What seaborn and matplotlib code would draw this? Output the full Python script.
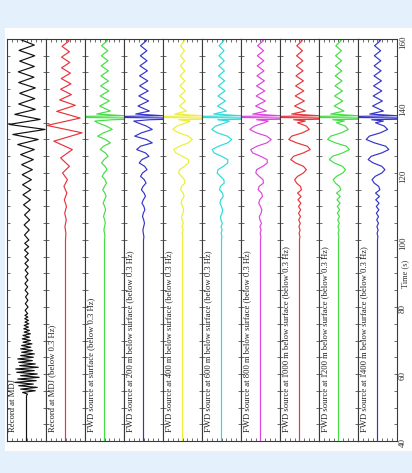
import matplotlib
matplotlib.use("Agg")
import matplotlib.pyplot as plt
from matplotlib.patches import Rectangle
from matplotlib.ticker import MultipleLocator
import seaborn as sns

# ---- data (time in s, amplitude as fraction of panel half-width) ----
labels = [
    "Record at MDJ",
    "Record at MDJ (below 0.3 Hz)",
    "FWD source at surface (below 0.3 Hz)",
    "FWD source at 200 m below surface (below 0.3 Hz)",
    "FWD source at 400 m below surface (below 0.3 Hz)",
    "FWD source at 600 m below surface (below 0.3 Hz)",
    "FWD source at 800 m below surface (below 0.3 Hz)",
    "FWD source at 1000 m below surface (below 0.3 Hz)",
    "FWD source at 1200 m below surface (below 0.3 Hz)",
    "FWD source at 1400 m below surface (below 0.3 Hz)",
]
colors = ["#111111", "#e8343c", "#44dd44", "#3434cc", "#eeee33",
          "#2edada", "#de44de", "#e8343c", "#44dd44", "#3434cc"]

time_ticks = [40, 60, 80, 100, 120, 140, 160]

# record at MDJ (broadband)
black_t = [40, 53.5,
           54, 54.5, 55, 55.5, 56, 56.5, 57, 57.5, 58, 58.5, 59, 59.5, 60, 60.5,
           61, 61.5, 62, 62.5, 63, 63.5, 64, 64.5, 65, 65.5, 66, 66.5, 67, 67.5,
           68, 68.5, 69, 69.5, 70, 70.5, 71, 71.5, 72, 72.5, 73, 73.5, 74, 74.5,
           75, 75.5, 76, 76.5, 77, 77.5, 78,
           79, 80, 81, 82, 83, 84, 85, 86, 87, 88, 89, 90, 91, 92, 93, 94, 95,
           96, 97, 98, 99, 100,
           101.5, 103, 104.5, 106, 107.5, 109, 110.5, 112, 113.5, 115, 116.5,
           118, 119.5, 121, 122.5, 124, 125.5, 127,
           128.5, 130, 131.5, 133, 134.5, 136, 137.5,
           139, 140.6, 142.2, 143.8, 145.4, 147, 148.6, 150.2, 151.8, 153.4,
           155, 156.6, 158.2, 159.8, 160]
black_a = [0, 0,
           0.05, -0.2, 0.45, -0.3, 0.55, -0.4, 0.35, -0.6, 0.5, -0.45, 0.65, -0.3, 0.55, -0.5,
           0.4, -0.55, 0.6, -0.35, 0.45, -0.4, 0.3, -0.45, 0.35, -0.3, 0.4, -0.25, 0.3, -0.3,
           0.22, -0.25, 0.28, -0.18, 0.2, -0.22, 0.15, -0.18, 0.2, -0.12, 0.15, -0.14, 0.1, -0.12,
           0.12, -0.08, 0.1, -0.09, 0.07, -0.08, 0.06,
           -0.07, 0.08, -0.06, 0.07, -0.05, 0.08, -0.07, 0.06, -0.08, 0.07, -0.06, 0.08, -0.07,
           0.09, -0.08, 0.1, -0.08, 0.09, -0.1, 0.11, -0.09, 0.12,
           -0.1, 0.14, -0.12, 0.16, -0.1, 0.18, -0.15, 0.2, -0.18, 0.22, -0.2,
           0.25, -0.22, 0.3, -0.25, 0.35, -0.3, 0.4,
           -0.45, 0.6, -0.7, 0.95, -0.9, 0.7, -0.6,
           0.45, -0.4, 0.42, -0.35, 0.45, -0.4, 0.38, -0.42, 0.4, -0.35,
           0.42, -0.38, 0.4, -0.3, -0.2]

# record at MDJ, low-passed
red_t = [40, 100, 102, 104, 106, 108, 110, 112, 114, 116, 118, 120, 122,
         124.5, 127, 129.5, 132, 134.2, 136.4, 138.4,
         140.2, 141.8, 143.4, 145, 146.6, 148.2, 149.8, 151.4, 153, 154.6,
         156.2, 157.8, 159.4, 160]
red_a = [0, 0, 0.02, -0.03, 0.04, -0.04, 0.05, -0.06, 0.07, -0.08, 0.1, -0.15, 0.2,
         -0.25, 0.35, -0.6, 0.85, -0.95, 0.75, -0.45,
         0.5, -0.3, 0.3, -0.25, 0.28, -0.22, 0.25, -0.2, 0.22, -0.2,
         0.2, -0.18, 0.18, 0]

# synthetic traces share one time grid
syn_t = [40, 100, 101, 102, 103, 104, 105, 106, 107, 108, 109, 110, 111,
         112, 113, 114, 115, 116, 117, 118, 119, 120, 121, 122, 123,
         124, 125, 126, 127, 128, 129, 130, 131, 132, 133, 134, 135,
         135.5, 135.9, 136.3, 136.7, 137.1, 137.6,
         138.5, 140, 141.5, 143, 144.5, 146, 147.5, 149, 150.5, 152, 153.5,
         155, 156.5, 158, 159.5, 160]

fwd_0 = [0, 0, 0.02, 0, -0.03, 0, 0.04, 0.01, -0.05, 0, 0.06, 0.01, -0.07,
         0, 0.08, 0.02, -0.09, 0, 0.1, 0.03, -0.12, -0.02, 0.13, 0.03, -0.15,
         -0.02, 0.18, 0.05, -0.22, -0.05, 0.3, 0.05, -0.35, -0.05, 0.4, 0.1, -0.35,
         -0.5, 0.4, 3.0, -3.0, 1.0, -0.4,
         0.3, -0.25, 0.25, -0.22, 0.22, -0.2, 0.2, -0.18, 0.2, -0.17, 0.18, -0.16, 0.17, -0.15, 0.15, 0]
fwd_200 = [0, 0, 0.02, -0.01, -0.03, 0.01, 0.05, 0.01, -0.05, -0.01, 0.07, 0.02, -0.08,
           -0.01, 0.1, 0.03, -0.11, -0.02, 0.13, 0.04, -0.15, -0.05, 0.18, 0.06, -0.22,
           -0.08, 0.28, 0.1, -0.35, -0.15, 0.45, 0.15, -0.45, -0.1, 0.45, 0.15, -0.3,
           -0.5, 0.3, 3.0, -3.0, 1.0, -0.4,
           0.3, -0.28, 0.26, -0.24, 0.24, -0.2, 0.22, -0.2, 0.2, -0.18, 0.18, -0.16, 0.17, -0.15, 0.15, 0]
fwd_400 = [0, 0, 0.02, -0.02, 0.03, -0.03, 0.04, -0.02, -0.05, 0.02, 0.06, 0.01, -0.07,
           -0.03, 0.08, 0.04, -0.1, -0.05, 0.12, 0.1, -0.05, -0.2, -0.15, 0.1, 0.3,
           0.3, 0, -0.35, -0.45, -0.15, 0.3, 0.5, 0.3, -0.2, -0.5, -0.3, 0.2,
           0.4, -0.2, 3.0, -3.0, 1.0, -0.4,
           0.2, -0.15, 0.15, -0.14, 0.14, -0.12, 0.12, -0.12, 0.12, -0.1, 0.11, -0.1, 0.1, -0.1, 0.1, 0]
fwd_600 = [0, 0, 0.02, -0.02, 0.03, -0.02, 0.04, -0.03, -0.05, 0.03, 0.06, 0, -0.08,
           -0.04, 0.09, 0.05, -0.1, -0.06, 0.14, 0.12, -0.06, -0.22, -0.18, 0.1, 0.32,
           0.32, 0, -0.38, -0.48, -0.15, 0.32, 0.52, 0.3, -0.22, -0.5, -0.3, 0.2,
           0.4, -0.2, 3.0, -3.0, 1.0, -0.4,
           0.25, -0.2, 0.2, -0.18, 0.18, -0.16, 0.16, -0.15, 0.15, -0.14, 0.14, -0.13, 0.13, -0.12, 0.12, 0]
fwd_800 = [0, 0, 0.02, -0.02, 0.03, -0.03, 0.05, -0.03, -0.06, 0.03, 0.07, 0, -0.09,
           -0.04, 0.1, 0.06, -0.12, -0.07, 0.15, 0.13, -0.07, -0.24, -0.2, 0.12, 0.35,
           0.34, 0, -0.4, -0.5, -0.18, 0.33, 0.55, 0.32, -0.22, -0.55, -0.32, 0.2,
           0.4, -0.2, 3.0, -3.0, 1.0, -0.4,
           0.3, -0.25, 0.25, -0.22, 0.22, -0.2, 0.2, -0.18, 0.18, -0.17, 0.17, -0.16, 0.16, -0.15, 0.15, 0]
fwd_1000 = [0, 0, 0.02, -0.02, 0.03, -0.03, 0.04, -0.04, 0.05, -0.05, 0.06, -0.05, 0.07,
            -0.08, 0.08, -0.1, 0.1, 0.05, -0.15, -0.25, -0.1, 0.2, 0.35, 0.2, -0.2,
            -0.45, -0.3, 0.2, 0.55, 0.4, -0.15, -0.55, -0.4, 0.15, 0.5, 0.35, -0.1,
            0.3, -0.3, 3.0, -3.0, 1.0, -0.4,
            0.3, -0.25, 0.25, -0.22, 0.22, -0.2, 0.2, -0.18, 0.18, -0.16, 0.17, -0.15, 0.15, -0.14, 0.14, 0]
fwd_1200 = [0, 0, 0.02, -0.02, 0.03, -0.03, 0.04, -0.04, 0.05, -0.06, 0.06, -0.06, 0.08,
            -0.08, 0.09, -0.1, 0.12, 0.05, -0.16, -0.27, -0.1, 0.22, 0.36, 0.2, -0.22,
            -0.47, -0.3, 0.22, 0.56, 0.4, -0.16, -0.56, -0.4, 0.15, 0.5, 0.35, -0.1,
            0.3, -0.3, 3.0, -3.0, 1.0, -0.4,
            0.28, -0.22, 0.22, -0.2, 0.2, -0.18, 0.18, -0.17, 0.17, -0.16, 0.16, -0.15, 0.15, -0.14, 0.14, 0]
fwd_1400 = [0, 0, 0.02, -0.02, 0.03, -0.03, 0.05, -0.04, 0.05, -0.06, 0.07, -0.06, 0.08,
            -0.09, 0.1, -0.1, 0.12, 0.06, -0.17, -0.28, -0.12, 0.22, 0.38, 0.22, -0.22,
            -0.48, -0.32, 0.22, 0.58, 0.42, -0.16, -0.58, -0.42, 0.15, 0.52, 0.35, -0.1,
            0.3, -0.3, 3.0, -3.0, 1.0, -0.4,
            0.3, -0.25, 0.25, -0.22, 0.22, -0.2, 0.2, -0.18, 0.18, -0.17, 0.17, -0.16, 0.16, -0.15, 0.15, 0]

times = [black_t, red_t] + [syn_t] * 8
amps = [black_a, red_a, fwd_0, fwd_200, fwd_400, fwd_600, fwd_800,
        fwd_1000, fwd_1200, fwd_1400]

# ---- figure ----
sns.set_style("white")
plt.rcParams["font.family"] = ["Liberation Serif", "DejaVu Serif"]

W, H = 412, 473
fig, axes = plt.subplots(1, 10, figsize=(W / 100, H / 100), dpi=100, sharey=True)
fig.patch.set_facecolor("#e4f0fb")
fig.patches.append(Rectangle((5 / W, 1 - 451 / H), 407 / W, 423 / H,
                             transform=fig.transFigure, facecolor="white",
                             edgecolor="none", zorder=-1))
fig.subplots_adjust(left=7 / W, right=397 / W, top=1 - 39 / H, bottom=1 - 441 / H, wspace=0)

for i, ax in enumerate(axes):
    sns.lineplot(x=amps[i], y=times[i], sort=False, estimator=None,
                 color=colors[i], linewidth=0.85, ax=ax)
    ax.set_xlim(-1, 1)
    ax.set_ylim(40, 160)
    ax.set_xlabel("")
    ax.set_ylabel("")
    for sp in ax.spines.values():
        sp.set_color("#3a3a3a")
        sp.set_linewidth(0.8)
    ax.xaxis.set_major_locator(MultipleLocator(0.25))
    ax.yaxis.set_major_locator(MultipleLocator(20))
    ax.yaxis.set_minor_locator(MultipleLocator(5))
    ax.tick_params(axis="x", which="both", direction="in", top=True, bottom=True,
                   labelbottom=False, length=2, width=0.5, color="#333333")
    ax.tick_params(axis="y", which="both", direction="in", left=True, right=True,
                   labelleft=False, labelright=False, length=2.5, width=0.5,
                   color="#333333")
    ax.text(0.05, 0.022, labels[i], transform=ax.transAxes, rotation=90,
            ha="left", va="bottom", fontsize=6.2, color="#222222")

axes[-1].set_yticks(time_ticks)
axes[-1].tick_params(axis="y", which="major", labelright=True, labelrotation=90,
                     labelsize=6.5, pad=1.5, labelcolor="#333333")

# axis title squeezed between the 80 and 100 tick labels at the right edge
fig.text(401 / W, 1 - 274 / H, "Time (s)", rotation=90, ha="left", va="center",
         fontsize=6, color="#333333")

fig.savefig("out.png", dpi=100, facecolor=fig.get_facecolor())
